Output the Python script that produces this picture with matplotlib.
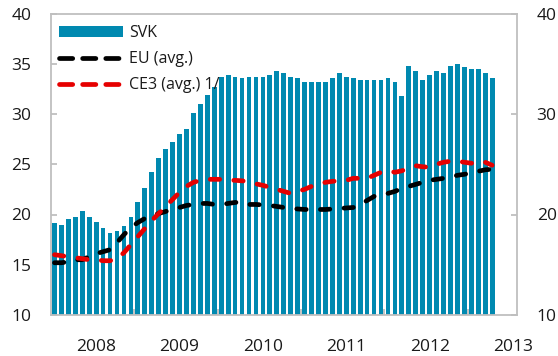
import matplotlib
matplotlib.use("Agg")
import matplotlib.pyplot as plt
from matplotlib.patches import Patch
from matplotlib.lines import Line2D
import numpy as np

plt.rcParams['font.family'] = ['Open Sans', 'DejaVu Sans']

# Monthly series, Jan 2008 - Apr 2013
svk = [19.2, 19.0, 19.6, 19.8, 20.3, 19.8, 19.3, 18.7, 18.2, 18.4, 18.9, 19.8,
       21.2, 22.6, 24.2, 25.6, 26.5, 27.2, 28.0, 28.5, 30.1, 31.0, 31.9, 32.7,
       33.7, 33.9, 33.7, 33.6, 33.7, 33.7, 33.7, 33.9, 34.3, 34.1, 33.7, 33.6,
       33.2, 33.2, 33.2, 33.2, 33.6, 34.1, 33.7, 33.6, 33.4, 33.4, 33.4, 33.4,
       33.6, 33.2, 31.8, 34.8, 34.3, 33.4, 33.9, 34.3, 34.1, 34.8, 35.0, 34.7,
       34.5, 34.5, 34.1, 33.6]
eu_avg = [15.2, 15.2, 15.3, 15.5, 15.5, 15.8, 16.1, 16.3, 16.5, 17.2, 18.0, 18.7,
          19.2, 19.6, 19.9, 20.1, 20.3, 20.5, 20.7, 20.9, 21.0, 21.1, 21.1, 21.0,
          21.0, 21.1, 21.2, 21.2, 21.0, 21.0, 20.95, 20.9, 20.8, 20.7, 20.6, 20.55,
          20.5, 20.5, 20.5, 20.5, 20.55, 20.6, 20.65, 20.7, 21.0, 21.4, 21.8, 21.95,
          22.1, 22.3, 22.6, 22.8, 23.0, 23.2, 23.4, 23.5, 23.6, 23.75, 23.9, 24.0,
          24.15, 24.3, 24.45, 24.5]
ce3_avg = [16.0, 15.9, 15.8, 15.7, 15.6, 15.5, 15.5, 15.4, 15.4, 15.6, 16.2, 17.0,
           17.8, 18.6, 19.4, 20.1, 20.8, 21.5, 22.2, 22.8, 23.2, 23.4, 23.5, 23.5,
           23.5, 23.4, 23.4, 23.35, 23.25, 23.05, 22.9, 22.7, 22.5, 22.3, 22.1, 22.3,
           22.5, 22.8, 23.0, 23.2, 23.3, 23.35, 23.4, 23.6, 23.6, 23.6, 23.9, 24.2,
           24.35, 24.2, 24.35, 24.6, 24.85, 24.75, 24.7, 25.0, 25.2, 25.3, 25.3, 25.2,
           25.1, 25.3, 25.2, 24.9]
year_labels = ['2008', '2009', '2010', '2011', '2012', '2013']
left_ticks = [10, 15, 20, 25, 30, 35, 40]
right_ticks = [10, 20, 30, 40]

BAR = '#0089B0'
GRID = '#BFBFBF'
TXT = '#1a1a1a'

fig = plt.figure(figsize=(5.58, 3.56), dpi=100)
ax = fig.add_axes([51 / 558, 1 - 315 / 356, (516.5 - 51) / 558, (315 - 13.5) / 356])

x = np.arange(len(svk))
ax.bar(x, svk, width=0.68, color=BAR, zorder=2)

line_kw = dict(lw=3.4, solid_capstyle='round', dash_capstyle='round', zorder=3)
ax.plot(x, eu_avg, color='black', dashes=(2.0, 3.0), **line_kw)
ax.plot(x, ce3_avg, color='#E60000', dashes=(2.0, 3.0), **line_kw)

ax.set_xlim(-0.5, 66.5)
ax.set_ylim(10, 40)

for s in ax.spines.values():
    s.set_color(GRID)
    s.set_linewidth(1.3)

# x axis: year labels mid-year, small boundary ticks between years
ax.set_xticks([6 + 12 * k for k in range(len(year_labels))])
ax.set_xticklabels(year_labels)
ax.set_xticks([11.5 + 12 * k for k in range(5)], minor=True)
ax.tick_params(axis='x', which='major', length=0, pad=17, labelsize=12.5, labelcolor=TXT)
ax.tick_params(axis='x', which='minor', direction='in', length=4.5, width=1.3, color=GRID)

ax.set_yticks(left_ticks)
ax.tick_params(axis='y', direction='in', length=4, width=1.3, color=GRID,
               pad=14, labelsize=12.5, labelcolor=TXT)

ax2 = ax.twinx()
ax2.set_ylim(10, 40)
ax2.set_yticks(right_ticks)
ax2.tick_params(axis='y', direction='in', length=4.5, width=1.3, color=GRID,
                pad=14.5, labelsize=12.5, labelcolor=TXT)
for s in ax2.spines.values():
    s.set_visible(False)

handles = [
    Patch(facecolor=BAR, edgecolor='none'),
    Line2D([0], [0], color='black', lw=3.4, dashes=(2.8, 2.1), dash_capstyle='round'),
    Line2D([0], [0], color='#E60000', lw=3.4, dashes=(2.8, 2.1), dash_capstyle='round'),
]
leg = ax.legend(handles, ['SVK', 'EU (avg.)', 'CE3 (avg.) 1/'],
                loc='upper left', bbox_to_anchor=(-0.009, 1.0), frameon=False,
                fontsize=11.5, handlelength=4.0, handletextpad=0.4,
                labelspacing=0.62, borderaxespad=0.3, borderpad=0.45)
for t in leg.get_texts():
    t.set_color(TXT)
leg.set_zorder(5)

fig.savefig('out.png', dpi=100)
